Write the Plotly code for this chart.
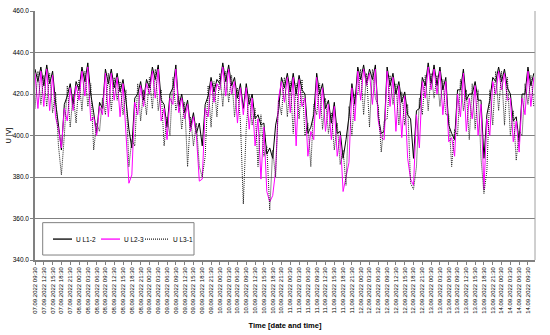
import pandas as pd
import plotly.graph_objects as go

# hourly samples starting 07.09.2022 09:30
start_time = "2022-09-07 09:30"

u_l12 = [432, 426, 433, 424, 434, 425, 431, 416, 405, 393, 415, 419, 425, 415, 426, 422, 433, 426, 435, 420,
         411, 401, 416, 413, 432, 425, 432, 423, 430, 421, 427, 417, 403, 394, 418, 420, 426, 417, 427, 423,
         433, 427, 434, 417, 415, 404, 420, 423, 434, 414, 420, 411, 417, 404, 411, 401, 406, 395, 415, 419,
         428, 421, 427, 425, 435, 426, 434, 424, 428, 418, 425, 413, 425, 415, 420, 408, 410, 405, 406, 391,
         394, 389, 405, 412, 428, 423, 430, 421, 430, 420, 429, 422, 420, 401, 404, 410, 430, 420, 425, 413,
         417, 406, 416, 401, 402, 389, 398, 409, 425, 415, 433, 427, 434, 425, 432, 427, 434, 409, 401, 402,
         433, 424, 430, 420, 426, 416, 421, 410, 408, 389, 412, 413, 428, 424, 435, 425, 434, 424, 433, 422,
         428, 405, 401, 398, 422, 422, 432, 417, 420, 420, 426, 417, 417, 389, 410, 417, 428, 426, 433, 426,
         432, 423, 420, 407, 409, 397, 420, 420, 433, 424, 430]

u_l23 = [430, 413, 431, 414, 432, 412, 429, 409, 403, 394, 413, 407, 423, 412, 424, 417, 431, 419, 433, 407,
         409, 400, 414, 410, 430, 409, 430, 417, 428, 409, 425, 398, 377, 381, 416, 410, 424, 414, 425, 420,
         431, 418, 432, 407, 413, 398, 418, 415, 432, 411, 418, 408, 415, 402, 409, 400, 378, 379, 413, 409,
         426, 416, 425, 422, 433, 419, 432, 420, 426, 406, 423, 410, 423, 403, 418, 395, 408, 379, 404, 373,
         368, 371, 383, 418, 426, 416, 428, 411, 428, 395, 427, 414, 418, 390, 402, 398, 428, 408, 423, 402,
         415, 398, 414, 390, 400, 373, 380, 387, 423, 407, 431, 417, 432, 424, 430, 415, 432, 407, 399, 398,
         431, 414, 428, 402, 424, 399, 419, 389, 379, 376, 410, 394, 426, 418, 433, 422, 432, 420, 431, 410,
         426, 397, 399, 390, 420, 409, 430, 402, 418, 408, 424, 400, 415, 374, 408, 400, 426, 420, 431, 422,
         430, 417, 418, 397, 407, 392, 418, 410, 431, 414, 428]

u_l31 = [413, 431, 415, 429, 414, 430, 411, 421, 395, 381, 400, 424, 404, 420, 406, 427, 412, 431, 414, 425,
         393, 406, 402, 418, 410, 430, 412, 428, 417, 426, 410, 422, 385, 398, 395, 425, 407, 422, 410, 428,
         413, 432, 412, 422, 395, 409, 400, 428, 412, 419, 403, 416, 385, 409, 395, 406, 385, 380, 390, 424,
         404, 426, 409, 430, 414, 431, 416, 429, 409, 423, 407, 367, 404, 420, 405, 413, 385, 410, 390, 395,
         364, 393, 380, 417, 410, 428, 409, 426, 401, 425, 408, 427, 400, 406, 385, 415, 410, 425, 403, 418,
         401, 411, 393, 406, 386, 393, 376, 414, 400, 420, 420, 432, 410, 430, 404, 432, 418, 414, 392, 407,
         408, 429, 415, 425, 405, 421, 405, 415, 377, 374, 385, 418, 410, 429, 412, 430, 418, 429, 414, 427,
         410, 410, 385, 403, 400, 427, 412, 422, 398, 425, 403, 422, 389, 372, 383, 422, 405, 431, 412, 431,
         405, 428, 400, 412, 388, 402, 400, 425, 415, 429, 414]

series_names = ["U L1-2", "U L2-3", "U L3-1"]
series_colors = ["#000000", "#FF00FF", "#202020"]
series_dash = ["solid", "solid", "1px,1px"]

times = pd.date_range(start_time, periods=len(u_l12), freq="h")

fig = go.Figure()
for name, vals, col, dash in zip(series_names, [u_l12, u_l23, u_l31], series_colors, series_dash):
    fig.add_trace(go.Scatter(x=times, y=vals, mode="lines", name=name, showlegend=False,
                             line=dict(color=col, width=1, dash=dash)))

font = "Liberation Sans, Arial, sans-serif"

# legend drawn as box + samples + labels (paper coordinates)
legend_sample_x = [(0.036, 0.074), (0.132, 0.170), (0.220, 0.266)]
legend_text_x = [0.078, 0.174, 0.272]
legend_y = 0.084
shapes = [
    dict(type="rect", xref="paper", yref="paper", x0=0.0154, x1=0.318, y0=0.02, y1=0.150,
         line=dict(color="#808080", width=1), fillcolor="white", layer="above"),
    dict(type="line", xref="paper", yref="paper", x0=1, x1=1, y0=0, y1=1,
         line=dict(color="#a0a0a0", width=1)),
]
annotations = []
for (sx0, sx1), tx, name, col, dash in zip(legend_sample_x, legend_text_x, series_names,
                                            series_colors, series_dash):
    shapes.append(dict(type="line", xref="paper", yref="paper", x0=sx0, x1=sx1,
                       y0=legend_y, y1=legend_y, layer="above",
                       line=dict(color=col, width=1.3, dash=dash)))
    annotations.append(dict(xref="paper", yref="paper", x=tx, y=legend_y, text=name,
                            showarrow=False, xanchor="left", yanchor="middle",
                            font=dict(size=6.5, color="#000")))

fig.update_layout(
    width=550, height=335,
    margin=dict(l=35, r=15, t=11, b=75),
    paper_bgcolor="white", plot_bgcolor="white",
    font=dict(family=font, size=6.5, color="#000"),
    showlegend=False,
    shapes=shapes,
    annotations=annotations,
)
fig.update_xaxes(
    range=["2022-09-07 09:30", "2022-09-14 11:54"], automargin=False,
    tickmode="linear", tick0="2022-09-07 09:30", dtick=3 * 3600 * 1000,
    tickformat="%d.%m.%Y %H:%M", tickangle=-90, tickfont=dict(size=6),
    showgrid=False, showline=True, linecolor="#808080", linewidth=1.5,
    ticks="outside", ticklen=3, tickcolor="#808080",
    title=dict(text="<b>Time [date and time]</b>", font=dict(size=7.5), standoff=10),
)
fig.update_yaxes(
    range=[340, 460], dtick=20, tickformat=".1f", automargin=False,
    showgrid=True, gridcolor="#808080", gridwidth=1,
    showline=True, linecolor="#808080", linewidth=1.5,
    ticks="outside", ticklen=3, tickcolor="#808080", zeroline=False,
    title=dict(text="U [V]", font=dict(size=7), standoff=0),
)

fig.write_html("out.html", config={"displayModeBar": False},
               post_script="document.body.style.margin='0';")
